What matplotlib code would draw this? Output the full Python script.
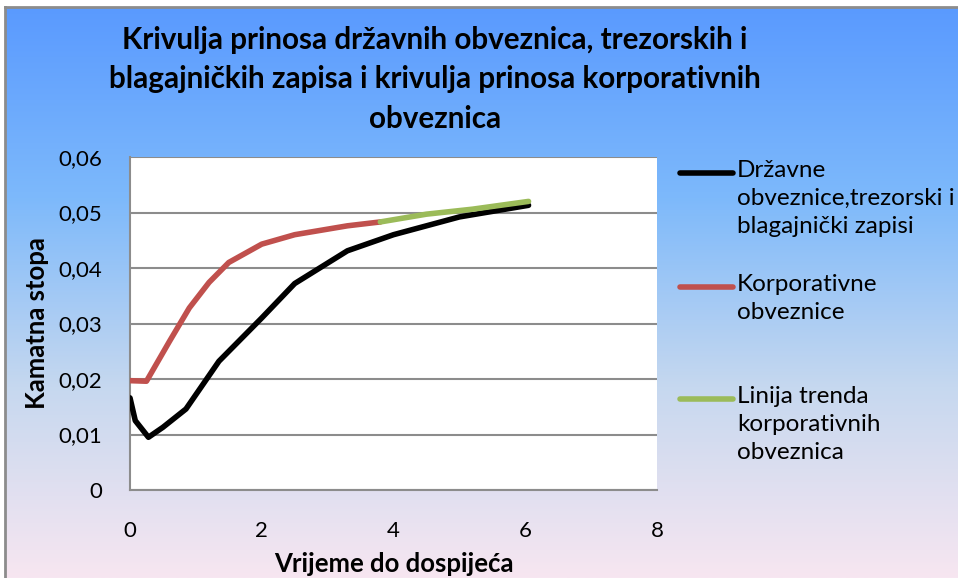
import numpy as np
import matplotlib
matplotlib.use("Agg")
from matplotlib import pyplot as plt
from matplotlib.colors import LinearSegmentedColormap
from matplotlib.lines import Line2D

# data
drzavne_x = [0.0, 0.08, 0.28, 0.5, 0.85, 1.35, 2.0, 2.5, 3.3, 4.0, 5.0, 6.05]
drzavne_y = [0.0166, 0.0125, 0.0095, 0.0113, 0.0146, 0.0232, 0.0310, 0.0372, 0.0431, 0.0460, 0.0492, 0.0513]
korp_x = [0.0, 0.25, 0.6, 0.9, 1.2, 1.5, 2.0, 2.5, 3.3, 3.8]
korp_y = [0.0197, 0.0196, 0.0268, 0.0328, 0.0374, 0.0410, 0.0443, 0.0460, 0.0476, 0.0483]
trend_x = [3.8, 4.5, 5.2, 6.05]
trend_y = [0.0483, 0.0497, 0.0506, 0.0520]

title = "Krivulja prinosa državnih obveznica, trezorskih i\nblagajničkih zapisa i krivulja prinosa korporativnih\nobveznica"
leg_labels = ["Državne\nobveznice,trezorski i\nblagajnički zapisi",
              "Korporativne\nobveznice",
              "Linija trenda\nkorporativnih\nobveznica"]
colors = ["black", "#c0504d", "#9bbb59"]
x_ticks = [0, 2, 4, 6, 8]
y_ticks = [0, 0.01, 0.02, 0.03, 0.04, 0.05, 0.06]

W, H = 958, 578
fig = plt.figure(figsize=(W / 100, H / 100), dpi=100)

# gradient background of the chart frame
bg = fig.add_axes([5 / W, 0, 1 - 5 / W, 1 - 7 / H])
cmap = LinearSegmentedColormap.from_list("bg", ["#5a9aff", "#7db9fb", "#c6d8ef", "#f7e6f1"])
grad = np.linspace(0, 1, 256).reshape(-1, 1)
bg.imshow(grad, aspect="auto", cmap=cmap, extent=[0, 1, 0, 1])
bg.set_xticks([]), bg.set_yticks([])
for s in ["right", "bottom"]:
    bg.spines[s].set_visible(False)
for s in ["left", "top"]:
    bg.spines[s].set_color("#8c8c8c")
    bg.spines[s].set_linewidth(2)

font = "Lato"

ax = fig.add_axes([130 / W, 1 - 490 / H, 527 / W, 333 / H])
ax.set_facecolor("white")
ax.plot(drzavne_x, drzavne_y, color=colors[0], lw=4, solid_capstyle="round", zorder=3)
ax.plot(korp_x, korp_y, color=colors[1], lw=4, solid_capstyle="round", zorder=4)
ax.plot(trend_x, trend_y, color=colors[2], lw=4, solid_capstyle="round", zorder=5)

ax.set_xlim(0, 8)
ax.set_ylim(0, 0.06)
ax.set_xticks(x_ticks)
ax.set_yticks(y_ticks)
ax.set_yticklabels([("%.2f" % v).replace(".", ",") if v else "0" for v in y_ticks])
ax.tick_params(labelsize=16, length=0, pad=20)
ax.tick_params(axis="x", pad=22)
for lab in ax.get_xticklabels() + ax.get_yticklabels():
    lab.set_fontfamily(font)
ax.grid(axis="y", color="#8c8c8c", lw=1.5)
ax.set_axisbelow(True)
for s in ["top", "right"]:
    ax.spines[s].set_visible(False)
for s in ["left", "bottom"]:
    ax.spines[s].set_color("#8c8c8c")
    ax.spines[s].set_linewidth(1.5)

ax.set_xlabel("Vrijeme do dospijeća", fontsize=18.5, fontweight="bold", family=font, labelpad=8)
ax.set_ylabel("Kamatna stopa", fontsize=18.5, fontweight="bold", family=font, labelpad=7)

fig.text(435 / W, 1 - 79 / H, title, ha="center", va="center", fontsize=21.3,
         fontweight="bold", family=font, linespacing=1.5)

# legend: handle next to the first line of each entry
leg_y = [173, 287, 399]
for lab, col, yy in zip(leg_labels, colors, leg_y):
    fig.add_artist(Line2D([680 / W, 733 / W], [1 - yy / H, 1 - yy / H], color=col, lw=4,
                          solid_capstyle="round"))
    fig.text(737 / W, 1 - (yy - 13) / H, lab, ha="left", va="top", fontsize=17.5,
             family=font, linespacing=1.4)

fig.savefig("out.png", dpi=100)
